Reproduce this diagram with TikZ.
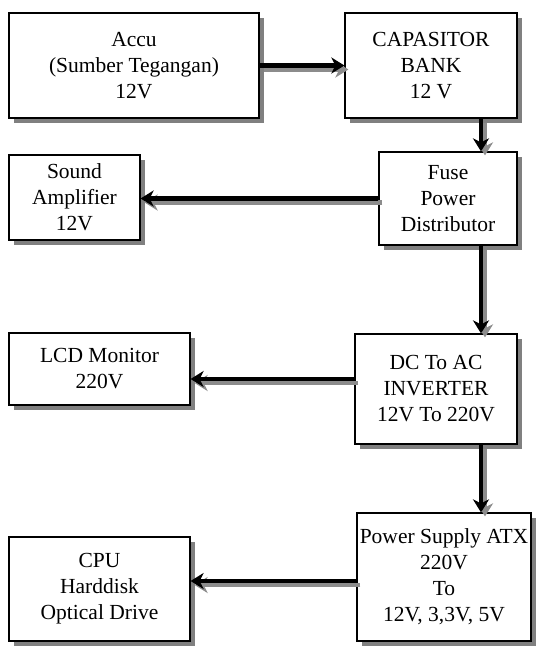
\documentclass[tikz,border=0pt]{standalone}
\usepackage{fontspec}
\setmainfont{Liberation Serif}
\usetikzlibrary{shadows,arrows.meta,calc}
\begin{document}
\begin{tikzpicture}[x=1pt,y=-1pt,
  blk/.style={draw=black,line width=1.2pt,fill=white,align=center,inner sep=0pt,
    font=\fontsize{21.5}{26}\selectfont,
    drop shadow={shadow xshift=5pt,shadow yshift=-5pt,fill=black!50,opacity=1}},
  arr/.style={line width=4.5pt,black,-{Stealth[length=13pt,width=16pt,inset=4pt]}},
  arrsh/.style={line width=4.5pt,black!45,-{Stealth[length=13pt,width=16pt,inset=4pt]},
    transform canvas={shift={(4pt,-4pt)}}}]
\useasboundingbox (0,0) rectangle (540,649);
\fill[white] (0,0) rectangle (540,649);
% boxes
\node[blk,minimum width=250pt,minimum height=105pt] (accu) at (134,65.5) {Accu\\(Sumber Tegangan)\\12V};
\node[blk,minimum width=172pt,minimum height=105pt] (cap) at (431,65.5) {CAPASITOR\\BANK\\12 V};
\node[blk,minimum width=131pt,minimum height=85pt] (sound) at (74.5,197.5) {Sound\\Amplifier\\12V};
\node[blk,minimum width=138pt,minimum height=93pt] (fuse) at (448,198.5) {Fuse\\Power\\Distributor};
\node[blk,minimum width=181pt,minimum height=72pt] (lcd) at (99.5,369) {LCD Monitor\\220V};
\node[blk,minimum width=162pt,minimum height=110pt] (dc) at (436,389) {DC To AC\\INVERTER\\12V To 220V};
\node[blk,minimum width=181pt,minimum height=104pt] (cpu) at (99.5,589) {CPU\\Harddisk\\Optical Drive};
\node[blk,minimum width=174pt,minimum height=128pt] (ps) at (444,577) {Power Supply ATX\\220V\\To\\12V, 3,3V, 5V};
% connector guide coordinates
\coordinate (vx) at (481,0);
\coordinate (hy1) at (0,379);
\coordinate (hy2) at (0,581);
% shadows of arrows
\draw[arrsh] (accu.east) -- (cap.west);
\draw[arrsh] (cap.south -| vx) -- (fuse.north -| vx);
\draw[arrsh] (fuse.west) -- (fuse.west -| sound.east);
\draw[arrsh] (fuse.south -| vx) -- (dc.north -| vx);
\draw[arrsh] (dc.west |- hy1) -- (lcd.east |- hy1);
\draw[arrsh] (dc.south -| vx) -- (ps.north -| vx);
\draw[arrsh] (ps.west |- hy2) -- (cpu.east |- hy2);
% arrows
\draw[arr] (accu.east) -- (cap.west);
\draw[arr] (cap.south -| vx) -- (fuse.north -| vx);
\draw[arr] (fuse.west) -- (fuse.west -| sound.east);
\draw[arr] (fuse.south -| vx) -- (dc.north -| vx);
\draw[arr] (dc.west |- hy1) -- (lcd.east |- hy1);
\draw[arr] (dc.south -| vx) -- (ps.north -| vx);
\draw[arr] (ps.west |- hy2) -- (cpu.east |- hy2);
\end{tikzpicture}
\end{document}
